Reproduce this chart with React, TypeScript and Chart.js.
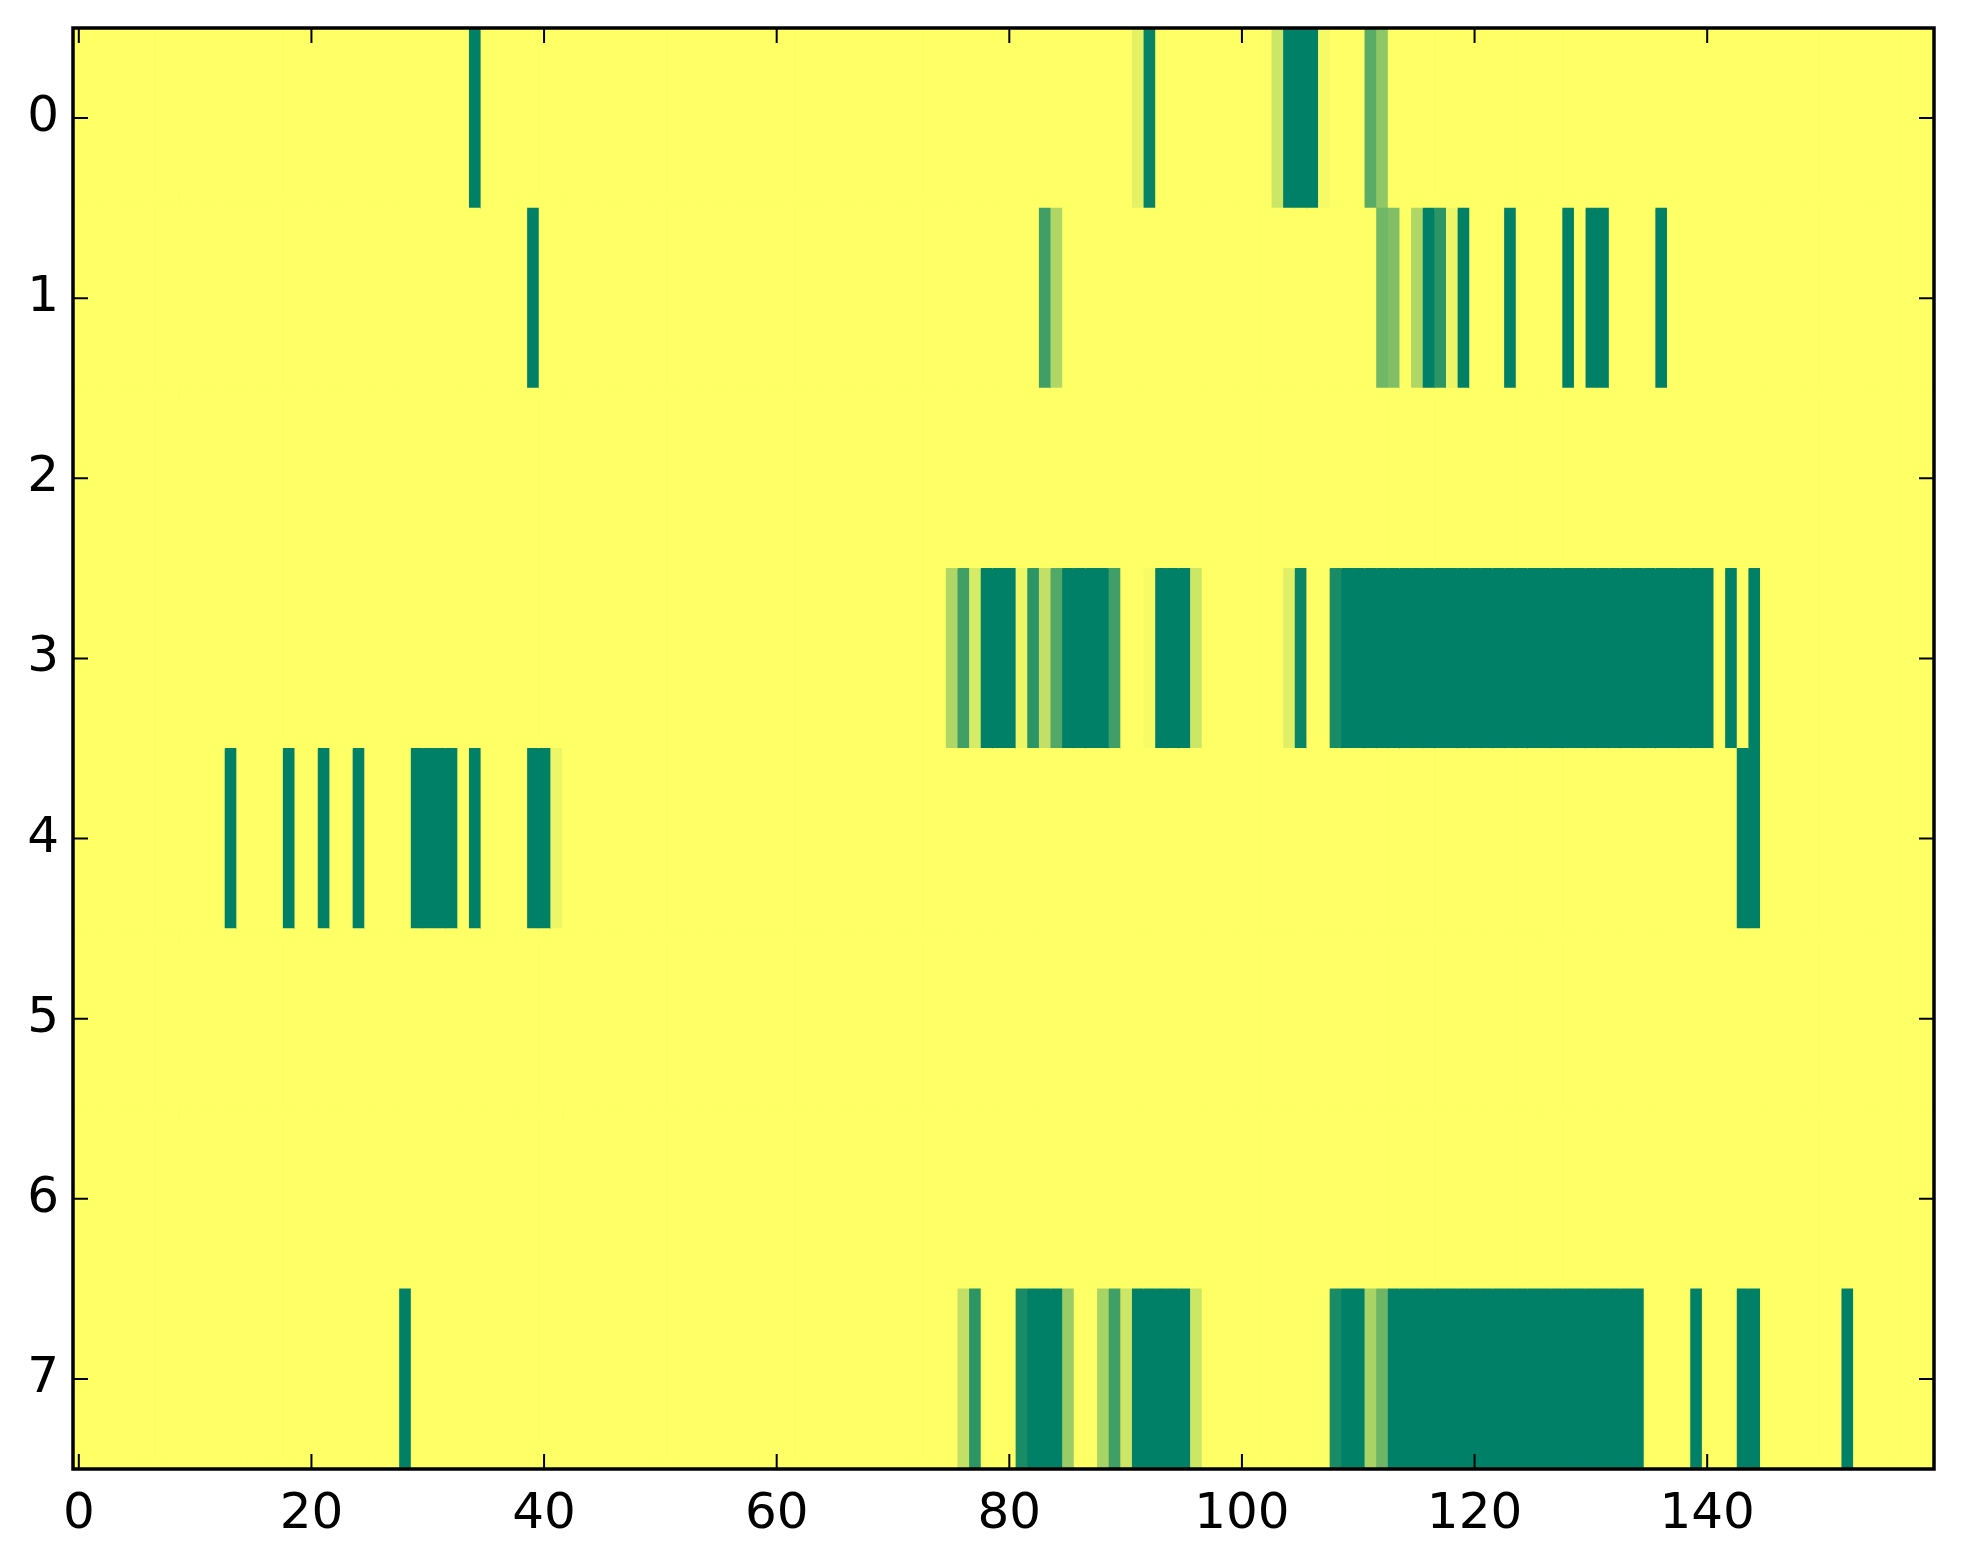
import React, { useEffect, useRef } from 'react';
import { Chart, registerables } from 'chart.js';

Chart.register(...registerables);

// Heat-map: 8 rows x 160 columns, values 0..1 (0 = yellow, 1 = dark green; "summer_r")
const nCols = 160;
const rowLabels = ['0', '1', '2', '3', '4', '5', '6', '7'];
const xTicks = [0, 20, 40, 60, 80, 100, 120, 140];

// Each row: runs of [firstCol, lastCol, value]; unlisted cells are 0
type Run = [number, number, number];
const row0: Run[] = [
  [34, 34, 1], [91, 91, 0.1], [92, 92, 0.97], [103, 103, 0.2], [104, 106, 1],
  [107, 107, 0.04], [111, 111, 0.65], [112, 112, 0.44],
];
const row1: Run[] = [
  [39, 39, 1], [83, 83, 0.75], [84, 84, 0.31], [112, 112, 0.56], [113, 113, 0.5],
  [115, 115, 0.31], [116, 116, 1], [117, 117, 0.83], [118, 118, 0.07], [119, 119, 1],
  [123, 123, 1], [128, 128, 1], [130, 131, 1], [136, 136, 1],
];
const row2: Run[] = [];
const row3: Run[] = [
  [75, 75, 0.31], [76, 76, 0.75], [77, 77, 0.16], [78, 80, 1], [81, 81, 0.07],
  [82, 82, 0.83], [83, 83, 0.24], [84, 84, 0.68], [85, 88, 1], [89, 89, 0.75],
  [92, 92, 0.03], [93, 95, 1], [96, 96, 0.2], [104, 104, 0.12], [105, 105, 0.96],
  [108, 108, 0.9], [109, 140, 1], [142, 142, 1], [144, 144, 1],
];
const row4: Run[] = [
  [13, 13, 1], [18, 18, 1], [21, 21, 1], [24, 24, 1], [29, 32, 1], [34, 34, 1],
  [39, 40, 1], [41, 41, 0.07], [143, 144, 1],
];
const row5: Run[] = [];
const row6: Run[] = [];
const row7: Run[] = [
  [28, 28, 1], [76, 76, 0.24], [77, 77, 0.83], [81, 81, 0.9], [82, 84, 1],
  [85, 85, 0.4], [88, 88, 0.34], [89, 89, 0.75], [90, 90, 0.2], [91, 95, 1],
  [96, 96, 0.2], [108, 108, 0.9], [109, 110, 1], [111, 111, 0.34], [112, 112, 0.57],
  [113, 134, 1], [139, 139, 1], [143, 144, 1], [152, 152, 1],
];
const rows: Run[][] = [row0, row1, row2, row3, row4, row5, row6, row7];

function summerR(v: number): string {
  const r = Math.round((1 - v) * 255);
  const g = Math.round((1 - 0.5 * v) * 255);
  return `rgb(${r},${g},102)`;
}

function buildGrid(): number[][] {
  return rows.map((runs) => {
    const line = new Array(nCols).fill(0);
    runs.forEach(([a, b, v]) => {
      for (let c = a; c <= b; c++) line[c] = v;
    });
    return line;
  });
}

const FONT = { family: "'DejaVu Sans', sans-serif", size: 50 };

const framePlugin = {
  id: 'frame',
  beforeDraw(chart: any) {
    const { ctx, chartArea } = chart;
    ctx.save();
    ctx.fillStyle = '#ffffff';
    ctx.fillRect(0, 0, chart.width, chart.height);
    ctx.fillStyle = summerR(0);
    ctx.fillRect(chartArea.left, chartArea.top, chartArea.right - chartArea.left, chartArea.bottom - chartArea.top);
    ctx.restore();
  },
  afterDraw(chart: any) {
    const { ctx, chartArea } = chart;
    const { left, right, top, bottom } = chartArea;
    const xs = chart.scales.x;
    const ys = chart.scales.y;
    const tl = 15;
    ctx.save();
    ctx.strokeStyle = '#000000';
    ctx.lineWidth = 2;
    ctx.beginPath();
    xTicks.forEach((v) => {
      const x = xs.getPixelForValue(v);
      ctx.moveTo(x, bottom);
      ctx.lineTo(x, bottom - tl);
      ctx.moveTo(x, top);
      ctx.lineTo(x, top + tl);
    });
    rowLabels.forEach((_, i) => {
      const y = ys.getPixelForValue(i);
      ctx.moveTo(left, y);
      ctx.lineTo(left + tl, y);
      ctx.moveTo(right, y);
      ctx.lineTo(right - tl, y);
    });
    ctx.stroke();
    ctx.lineWidth = 3.5;
    ctx.strokeRect(left, top, right - left, bottom - top);
    ctx.restore();
  },
};

export default function App() {
  const ref = useRef<HTMLCanvasElement>(null);

  useEffect(() => {
    if (!ref.current) return;
    const grid = buildGrid();
    const datasets = [];
    for (let c = 0; c < nCols; c++) {
      datasets.push({
        label: 'col ' + c,
        data: rowLabels.map(() => [c - 0.5, c + 0.5]),
        backgroundColor: grid.map((line) => summerR(line[c])),
        borderWidth: 0,
        barPercentage: 1,
        categoryPercentage: 1,
        grouped: false,
        inflateAmount: 0.5,
      });
    }
    const chart = new Chart(ref.current, {
      type: 'bar',
      data: { labels: rowLabels, datasets: datasets as any },
      options: {
        indexAxis: 'y',
        animation: false,
        responsive: false,
        devicePixelRatio: 1,
        layout: { padding: { left: 0, right: 29, top: 28, bottom: 0 } },
        plugins: {
          legend: { display: false },
          tooltip: { enabled: false },
          title: { display: false },
        },
        scales: {
          x: {
            type: 'linear',
            min: -0.5,
            max: nCols - 0.5,
            offset: false,
            grid: { display: false, drawTicks: false },
            border: { display: false },
            ticks: { font: FONT, color: '#000000', padding: 16, maxRotation: 0 },
            afterBuildTicks: (scale: any) => {
              scale.ticks = xTicks.map((v) => ({ value: v }));
            },
            afterFit: (scale: any) => {
              scale.height = 95;
              scale.paddingLeft = 0;
              scale.paddingRight = 0;
            },
          },
          y: {
            type: 'category',
            offset: true,
            grid: { display: false, drawTicks: false },
            border: { display: false },
            ticks: { font: FONT, color: '#000000', padding: 14 },
            afterFit: (scale: any) => {
              scale.width = 73;
              scale.paddingTop = 0;
              scale.paddingBottom = 0;
            },
          },
        },
      },
      plugins: [framePlugin],
    });
    return () => chart.destroy();
  }, []);

  return (
    <div style={{ position: 'absolute', left: 0, top: 0, width: 1963, height: 1564, background: '#ffffff' }}>
      <canvas ref={ref} width={1963} height={1564} style={{ width: 1963, height: 1564, display: 'block' }} />
    </div>
  );
}
